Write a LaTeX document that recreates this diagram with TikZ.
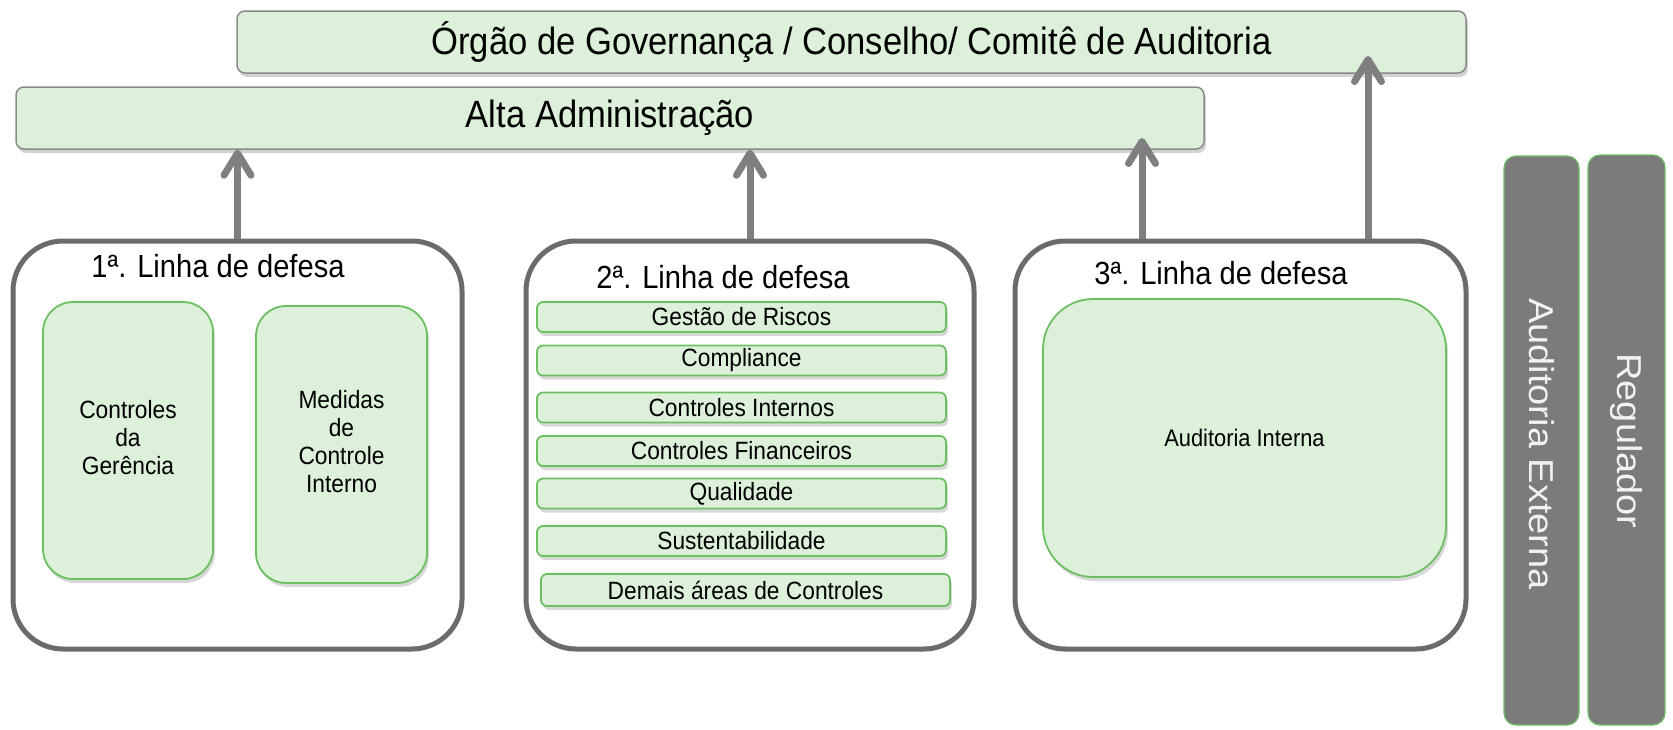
\documentclass[tikz,border=0pt]{standalone}
\usepackage{fontspec}
\setmainfont{Liberation Sans}
\usetikzlibrary{arrows.meta,shadows,calc}
\definecolor{gfill}{HTML}{DCF0DA}
\definecolor{gline}{HTML}{6CC062}
\definecolor{darkline}{HTML}{6B6B6B}
\definecolor{arrgray}{HTML}{7F7F7F}
\definecolor{bargray}{HTML}{7B7B7C}
\definecolor{topline}{HTML}{8A8A8A}
\definecolor{bartext}{HTML}{F2F2F2}
\newcommand{\sq}[1]{\scalebox{0.91}[1]{#1}}
\newcommand{\fs}[2]{\fontsize{#1}{#2}\selectfont}
\begin{document}
\begin{tikzpicture}[x=1pt,y=-1pt,
  topbox/.style={draw=topline, line width=1.5pt, fill=gfill, rounded corners=8pt, inner sep=0pt,
    drop shadow={shadow xshift=2pt, shadow yshift=-4pt, opacity=0.35}},
  linebox/.style={draw=darkline, line width=5pt, fill=white, rounded corners=50pt, inner sep=0pt},
  greenbox/.style={draw=gline, line width=1.8pt, fill=gfill, inner sep=0pt,
    drop shadow={shadow xshift=2pt, shadow yshift=-4pt, opacity=0.3}},
  vbar/.style={draw=gline, line width=1.2pt, fill=bargray, rounded corners=12pt, inner sep=0pt},
  title/.style={inner sep=0pt, text=black},
  arr/.style={draw=arrgray, line width=7pt, -{Straight Barb[length=22pt,width=27pt,round]}}
]
\useasboundingbox (0,0) rectangle (1673,729);

% lines of defense
\node[linebox, minimum width=449pt, minimum height=408pt] (l1) at (237.5,445) {};
\node[linebox, minimum width=448pt, minimum height=408pt] (l2) at (750,445) {};
\node[linebox, minimum width=451pt, minimum height=408pt] (l3) at (1240.5,445) {};

\node[title] (t1) at (218,266) {\fs{32}{32}\sq{1ª. Linha de defesa}};
\node[title] (t2) at (723,277) {\fs{32}{32}\sq{2ª. Linha de defesa}};
\node[title] (t3) at (1221,273) {\fs{32}{32}\sq{3ª. Linha de defesa}};

% first line
\node[greenbox, rounded corners=30pt, minimum width=170pt, minimum height=277pt] (c1) at (128,440.5)
  {\fs{25}{28}\sq{\begin{tabular}{@{}c@{}}Controles\\da\\Gerência\end{tabular}}};
\node[greenbox, rounded corners=30pt, minimum width=171pt, minimum height=277pt] (m1) at (341.5,444.5)
  {\fs{25}{28}\sq{\begin{tabular}{@{}c@{}}Medidas\\de\\Controle\\Interno\end{tabular}}};

% second line
\tikzset{l2bar/.style={greenbox, rounded corners=6pt, minimum width=409pt, minimum height=30pt}}
\node[l2bar] (gr) at (741.5,317) {\fs{25}{25}\sq{Gestão de Riscos}};
\node[l2bar] (co) at (741.5,360.5) {\fs{25}{25}\sq{Compliance}};
\node[l2bar] (ci) at (741.5,407.5) {\fs{25}{25}\sq{Controles Internos}};
\node[l2bar] (cf) at (741.5,451) {\fs{25}{25}\sq{Controles Financeiros}};
\node[l2bar] (ql) at (741.5,493.5) {\fs{25}{25}\sq{Qualidade}};
\node[l2bar] (su) at (741.5,541) {\fs{25}{25}\sq{Sustentabilidade}};
\node[l2bar, minimum height=32pt] (da) at (745.5,590) {\fs{25}{25}\sq{Demais áreas de Controles}};

% third line
\node[greenbox, rounded corners=50pt, minimum width=403pt, minimum height=278pt] (ai) at (1244.5,438)
  {\fs{24}{24}\sq{Auditoria Interna}};

% top boxes
\node[topbox, minimum width=1229pt, minimum height=62pt] (org) at (851.5,42)
  {\fs{38}{38}\sq{Órgão de Governança / Conselho/ Comitê de Auditoria}};
\node[topbox, minimum width=1188pt, minimum height=62pt] (alta) at (610,118)
  {\fs{38}{38}\sq{Alta Administração}};

% external bars
\node[vbar, minimum width=75pt, minimum height=569pt] (ae) at (1541.5,440.5) {};
\node[vbar, minimum width=77pt, minimum height=570pt] (rg) at (1626.5,440) {};
\node[rotate=-90, text=bartext, inner sep=0pt] (aet) at (1541.5,444) {\fs{38}{38}\scalebox{1}[0.91]{Auditoria Externa}};
\node[rotate=-90, text=bartext, inner sep=0pt] (rgt) at (1626.5,441) {\fs{38}{38}\scalebox{1}[0.91]{Regulador}};

% arrows
\coordinate (tip3) at (1142,138);
\coordinate (tip4) at (1368,56);
\draw[arr] (l1.north) -- (l1.north |- alta.south);
\draw[arr] (l2.north) -- (l2.north |- alta.south);
\draw[arr] (tip3 |- l3.north) -- (tip3);
\draw[arr] (tip4 |- l3.north) -- (tip4);
\end{tikzpicture}
\end{document}
